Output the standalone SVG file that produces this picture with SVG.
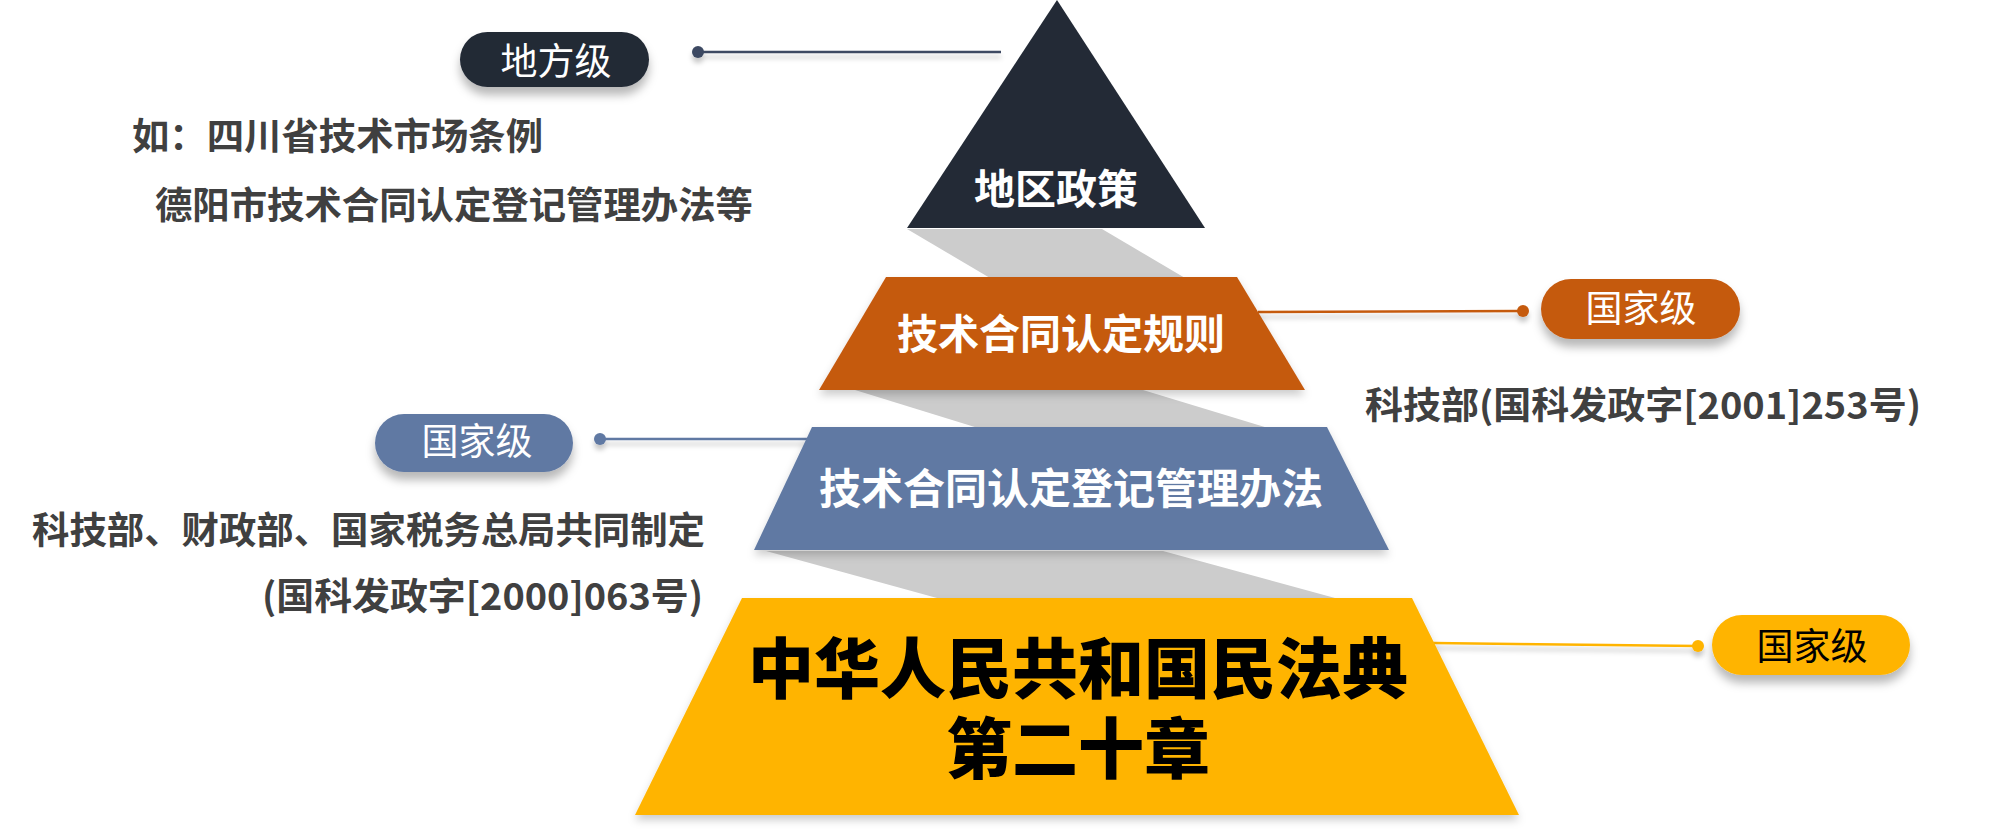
<svg xmlns="http://www.w3.org/2000/svg" width="1991" height="838" viewBox="0 0 1991 838">
<defs>
<filter id="sh" x="-20%" y="-30%" width="140%" height="190%">
<feDropShadow dx="0" dy="8" stdDeviation="5" flood-color="#000" flood-opacity="0.28"/>
</filter>
<filter id="shl" x="-5%" y="-200%" width="110%" height="600%">
<feDropShadow dx="0" dy="5" stdDeviation="2.5" flood-color="#000" flood-opacity="0.22"/>
</filter>
<filter id="shs" x="-5%" y="-10%" width="110%" height="125%">
<feDropShadow dx="0" dy="5" stdDeviation="4" flood-color="#000" flood-opacity="0.2"/>
</filter>
</defs>
<style>
text{font-family:"Noto Sans CJK SC","Noto Sans",sans-serif}
.band{fill:#CCCCCC}
.lbl{font-size:41px;font-weight:700;fill:#FFFFFF;text-anchor:middle}
.big{font-size:66px;font-weight:900;fill:#000000;text-anchor:middle}
.pill{font-size:37px;font-weight:400;text-anchor:middle}
.note{font-size:37px;font-weight:700;fill:#404040}
.ln{stroke-width:2.5;fill:none}
</style>
<rect width="1991" height="838" fill="#FFFFFF"/>

<g id="bands">
<polygon class="band" points="907,229 1102,229 1185,278 990,278"/>
<polygon class="band" points="855,390 1143,390 1268,428 978,428"/>
<polygon class="band" points="766,551 1163,551 1335,598 937,598"/>
</g>

<g id="connectors">
<g filter="url(#shl)">
<line class="ln" x1="698" y1="52" x2="1001" y2="52" stroke="#3C4A62"/>
<circle cx="698" cy="52" r="6" fill="#3C4A62"/>
</g>
<g filter="url(#shl)">
<line class="ln" x1="1258" y1="312" x2="1523" y2="311" stroke="#C55A11"/>
<circle cx="1523" cy="311" r="6" fill="#C55A11"/>
</g>
<g filter="url(#shl)">
<line class="ln" x1="600" y1="439" x2="808" y2="439" stroke="#6079A3"/>
<circle cx="600" cy="439" r="6" fill="#6079A3"/>
</g>
<g filter="url(#shl)">
<line class="ln" x1="1433" y1="643" x2="1698" y2="646" stroke="#FFB400"/>
<circle cx="1698" cy="646" r="6" fill="#FFB400"/>
</g>
</g>

<g id="node-local">
<polygon points="1057,0 1205,228 907,228" fill="#232A36"/>
<text class="lbl" x="1056" y="204">地区政策</text>
</g>

<g id="node-rules">
<polygon points="886,277 1237,277 1305,390 819,390" fill="#C55A11" filter="url(#shs)"/>
<text class="lbl" x="1061" y="349">技术合同认定规则</text>
</g>

<g id="node-measures">
<polygon points="812,427 1327,427 1389,550 754,550" fill="#6079A3" filter="url(#shs)"/>
<text class="lbl" x="1071" y="504" style="font-size:42px">技术合同认定登记管理办法</text>
</g>

<g id="node-civilcode">
<polygon points="742,598 1412,598 1519,815 635,815" fill="#FFB400" filter="url(#shs)"/>
<text class="big" x="1078" y="693">中华人民共和国民法典<tspan x="1078" dy="80">第二十章</tspan></text>
</g>

<g id="pill-local">
<rect x="460" y="32" width="189" height="55" rx="27.5" fill="#232A36" filter="url(#sh)"/>
<text class="pill" x="556" y="75" fill="#FFFFFF">地方级</text>
</g>

<g id="pill-rules">
<rect x="1541" y="279" width="199" height="60" rx="30" fill="#C55A11" filter="url(#sh)"/>
<text class="pill" x="1641" y="322" fill="#FFFFFF">国家级</text>
</g>

<g id="pill-measures">
<rect x="375" y="414" width="198" height="58" rx="29" fill="#6079A3" filter="url(#sh)"/>
<text class="pill" x="477" y="455" fill="#FFFFFF">国家级</text>
</g>

<g id="pill-civilcode">
<rect x="1712" y="615" width="198" height="60" rx="30" fill="#FFB400" filter="url(#sh)"/>
<text class="pill" x="1812" y="660" fill="#000000">国家级</text>
</g>

<g id="notes">
<text class="note" x="132" y="150" textLength="411" lengthAdjust="spacingAndGlyphs">如：四川省技术市场条例</text>
<text class="note" x="155" y="219" textLength="598" lengthAdjust="spacingAndGlyphs">德阳市技术合同认定登记管理办法等</text>
<text class="note" x="1365" y="419" textLength="556" lengthAdjust="spacingAndGlyphs">科技部(国科发政字[2001]253号)</text>
<text class="note" x="32" y="544" textLength="673" lengthAdjust="spacingAndGlyphs">科技部、财政部、国家税务总局共同制定</text>
<text class="note" x="262" y="610" textLength="441" lengthAdjust="spacingAndGlyphs">(国科发政字[2000]063号)</text>
</g>
</svg>
